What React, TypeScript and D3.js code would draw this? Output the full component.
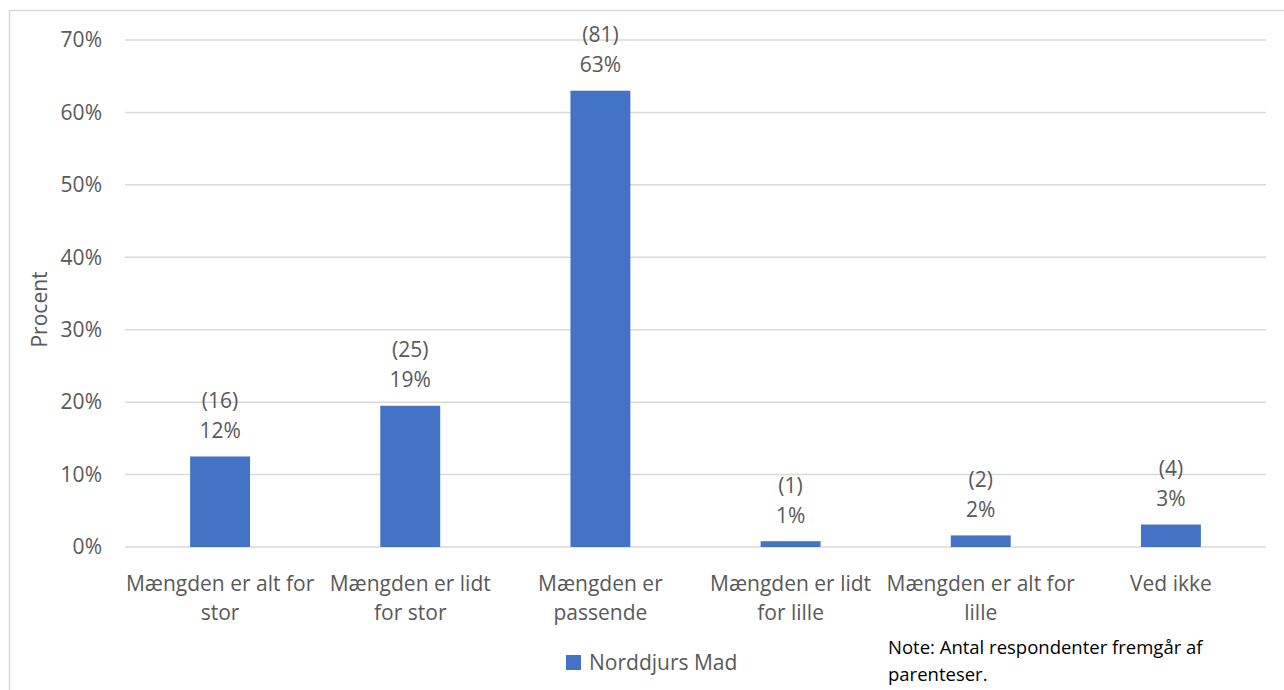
import React from "react";
import * as d3 from "d3";

const categories: string[][] = [
  ["Mængden er alt for", "stor"],
  ["Mængden er lidt", "for stor"],
  ["Mængden er", "passende"],
  ["Mængden er lidt", "for lille"],
  ["Mængden er alt for", "lille"],
  ["Ved ikke"],
];
const counts = [16, 25, 81, 1, 2, 4];
const percents = [12.5, 19.5, 63.0, 0.8, 1.6, 3.1];
const percentLabels = ["12%", "19%", "63%", "1%", "2%", "3%"];
const yTicks = [0, 10, 20, 30, 40, 50, 60, 70];
const seriesName = "Norddjurs Mad";
const noteLines = ["Note: Antal respondenter fremgår af", "parenteser."];

const W = 1284;
const H = 690;
const left = 125;
const right = 1266;
const top = 40;
const bottom = 547;
const textColor = "#595959";
const barColor = "#4472c4";
const font = "'Open Sans', sans-serif";
const fs = 21;

export default function App() {
  const x = d3
    .scaleBand<number>()
    .domain(categories.map((_, i) => i))
    .range([left, right])
    .paddingInner(0.685)
    .paddingOuter(0.3425);
  const y = d3.scaleLinear().domain([0, 70]).range([bottom, top]);
  const bw = x.bandwidth();

  return (
    <svg
      width={W}
      height={H}
      style={{ position: "fixed", left: 0, top: 0, background: "#fff" }}
      fontFamily={font}
    >
      <rect x={0} y={0} width={W} height={H} fill="#fff" />
      <path d={`M9.5,${H} V10.5 H${W}`} fill="none" stroke="#d9d9d9" strokeWidth={1.5} />
      {yTicks.map((t) => (
        <g key={t}>
          <line x1={left} x2={right} y1={y(t)} y2={y(t)} stroke="#d9d9d9" strokeWidth={1.5} />
          <text
            x={102}
            y={y(t)}
            dy="0.35em"
            textAnchor="end"
            fontSize={fs}
            fill={textColor}
          >
            {t}%
          </text>
        </g>
      ))}
      <text
        transform={`translate(40,${(top + bottom) / 2 + 16}) rotate(-90)`}
        textAnchor="middle"
        dy="0.35em"
        fontSize={fs}
        fill={textColor}
      >
        Procent
      </text>
      {percents.map((v, i) => {
        const cx = (x(i) as number) + bw / 2;
        const yt = y(v);
        return (
          <g key={i}>
            <rect x={x(i)} y={yt} width={bw} height={bottom - yt} fill={barColor} />
            <text x={cx} y={yt - 26} dy="0.35em" textAnchor="middle" fontSize={fs} fill={textColor}>
              {percentLabels[i]}
            </text>
            <text x={cx} y={yt - 56} dy="0.35em" textAnchor="middle" fontSize={fs} fill={textColor}>
              ({counts[i]})
            </text>
            {categories[i].map((line, j) => (
              <text
                key={j}
                x={cx}
                y={584 + j * 29}
                dy="0.35em"
                textAnchor="middle"
                fontSize={fs}
                fill={textColor}
              >
                {line}
              </text>
            ))}
          </g>
        );
      })}
      <rect x={566} y={655} width={15} height={15} fill={barColor} />
      <text x={589} y={663} dy="0.35em" fontSize={fs} fill={textColor}>
        {seriesName}
      </text>
      {noteLines.map((l, i) => (
        <text key={i} x={888} y={648 + i * 27} dy="0.35em" fontSize={18.5} fill="#000">
          {l}
        </text>
      ))}
    </svg>
  );
}
